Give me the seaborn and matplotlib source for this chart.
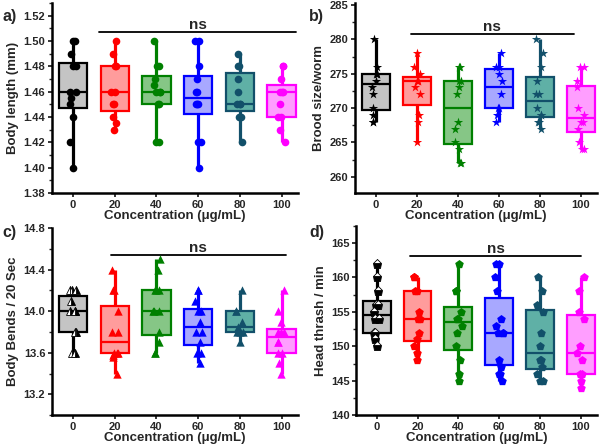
import numpy as np
import pandas as pd
import matplotlib
matplotlib.use("Agg")
import matplotlib.pyplot as plt
import seaborn as sns
from matplotlib.ticker import MultipleLocator, FormatStrFormatter

# concentrations (ug/mL)
conc = ["0", "20", "40", "60", "80", "100"]

edge_colors = ["#000000", "#ff0000", "#008000", "#0000ff", "#12506a", "#ff00ff"]
fill_colors = ["#c4c4c4", "#ff9c9c", "#86c686", "#a8a8ff", "#5fb0a6", "#ff9eff"]

# a) body length (mm)
body_length = [
    [1.50, 1.50, 1.49, 1.48, 1.48, 1.46, 1.46, 1.455, 1.45, 1.44, 1.42, 1.40],
    [1.50, 1.49, 1.48, 1.48, 1.46, 1.46, 1.45, 1.45, 1.44, 1.435, 1.43],
    [1.50, 1.48, 1.48, 1.47, 1.465, 1.46, 1.46, 1.46, 1.45, 1.45, 1.42, 1.42],
    [1.50, 1.50, 1.48, 1.47, 1.46, 1.46, 1.45, 1.45, 1.45, 1.42, 1.42, 1.40],
    [1.49, 1.48, 1.48, 1.47, 1.46, 1.45, 1.45, 1.45, 1.44, 1.44, 1.42],
    [1.48, 1.48, 1.47, 1.46, 1.46, 1.46, 1.45, 1.44, 1.44, 1.43, 1.42],
]

# b) brood size / worm
brood_size = [
    [280, 276, 275, 275, 275, 274, 273, 272, 270, 269, 268, 268],
    [278, 276, 275, 274, 274, 274, 273, 272, 269, 268, 265],
    [276, 276, 274, 274, 273, 272, 268, 267, 265, 264, 262, 262],
    [278, 276, 276, 275, 274, 272, 270, 270, 269, 268],
    [280, 278, 276, 274, 272, 272, 270, 269, 269, 268, 268, 267],
    [276, 276, 274, 273, 270, 269, 268, 268, 267, 265, 264, 264],
]

# c) body bends / 20 sec
body_bends = [
    [14.2, 14.2, 14.2, 14.1, 14.0, 14.0, 14.0, 13.8, 13.8, 13.6, 13.6],
    [14.4, 14.2, 14.2, 14.0, 13.8, 13.8, 13.6, 13.6, 13.6, 13.58, 13.56, 13.4],
    [14.5, 14.4, 14.2, 14.2, 14.2, 14.0, 14.0, 14.0, 13.8, 13.7, 13.6, 13.6],
    [14.2, 14.2, 14.1, 14.0, 14.0, 13.9, 13.8, 13.8, 13.7, 13.6, 13.6, 13.5],
    [14.2, 14.0, 14.0, 13.9, 13.85, 13.8, 13.8, 13.8, 13.7],
    [14.2, 14.0, 13.9, 13.8, 13.8, 13.8, 13.7, 13.7, 13.6, 13.6, 13.5, 13.4],
]

# d) head thrash / min
head_thrash = [
    [162, 160, 158, 156, 156, 155, 154, 154, 152, 152, 151, 150],
    [160, 160, 158, 158, 155, 154, 154, 152, 151, 150, 149, 148],
    [162, 158, 158, 155, 154, 154, 153, 152, 150, 148, 146, 145],
    [162, 162, 160, 158, 154, 153, 152, 152, 152, 148, 147, 146, 146, 145],
    [160, 158, 156, 155, 152, 150, 148, 148, 147, 146, 145, 145],
    [160, 158, 155, 154, 150, 149, 148, 146, 146, 145, 144],
]

panels = [
    dict(vals=body_length, ylabel="Body length (mm)", ylim=(1.38, 1.53), major=0.02, minor=0.01,
         fmt="%.2f", marker="o", fill="full", ms=5.5, ns_y=1.507, ns_x=(0.63, 5.35), letter="a)",
         rect=[0.087, 0.567, 0.410, 0.426], letter_pos=(0.004, 0.962)),
    dict(vals=brood_size, ylabel="Brood size/worm", ylim=(257.6, 285.3), major=5, minor=2.5,
         fmt="%d", marker="*", fill="full", ms=7, ns_y=280.8, ns_x=(0.85, 4.83), letter="b)",
         rect=[0.592, 0.567, 0.403, 0.426], letter_pos=(0.515, 0.962)),
    dict(vals=body_bends, ylabel="Body Bends / 20 Sec", ylim=(13.0, 14.8), major=0.4, minor=0.2,
         fmt="%.1f", marker="^", fill="right", ms=6, ns_y=14.54, ns_x=(0.9, 5.1), letter="c)",
         rect=[0.087, 0.069, 0.410, 0.420], letter_pos=(0.004, 0.478)),
    dict(vals=head_thrash, ylabel="Head thrash / min", ylim=(140, 167.5), major=5, minor=2.5,
         fmt="%d", marker="p", fill="bottom", ms=6.5, ns_y=163.1, ns_x=(0.82, 5.0), letter="d)",
         rect=[0.594, 0.069, 0.401, 0.425], letter_pos=(0.515, 0.478)),
]

sns.set_style("ticks")
plt.rcParams["font.family"] = ["Liberation Sans", "DejaVu Sans"]
plt.rcParams["font.weight"] = "bold"
plt.rcParams["axes.labelweight"] = "bold"
np.random.seed(3)

fig = plt.figure(figsize=(6, 4.46), dpi=100)

for p in panels:
    ax = fig.add_axes(p["rect"])
    df = pd.DataFrame({
        "Concentration": [c for c, v in zip(conc, p["vals"]) for _ in v],
        "Value": [x for v in p["vals"] for x in v],
    })
    for c, ec, fc in zip(conc, edge_colors, fill_colors):
        sub = df[df["Concentration"] == c]
        sns.boxplot(data=sub, x="Concentration", y="Value", order=conc, ax=ax,
                    color=fc, linecolor=ec, saturation=1, width=0.68, whis=(0, 100),
                    showcaps=False, showfliers=False, linewidth=1.6,
                    whiskerprops={"linewidth": 2.3})
    for c, ec in zip(conc, edge_colors):
        sub = df[df["Concentration"] == c]
        n_before = len(ax.collections)
        sns.stripplot(data=sub, x="Concentration", y="Value", order=conc, ax=ax,
                      color=ec, marker=p["marker"], size=p["ms"], jitter=0.09,
                      linewidth=0, zorder=4)
        if p["fill"] != "full":
            coll = ax.collections[n_before]
            offs = coll.get_offsets()
            coll.remove()
            ax.plot(offs[:, 0], offs[:, 1], ls="none", marker=p["marker"],
                    fillstyle=p["fill"], markerfacecolor=ec, markerfacecoloralt="white",
                    markeredgecolor=ec, markeredgewidth=0.6, ms=p["ms"], zorder=4)

    ax.set_xlim(-0.5, 5.4)
    ax.set_ylim(*p["ylim"])
    ax.yaxis.set_major_locator(MultipleLocator(p["major"]))
    ax.yaxis.set_minor_locator(MultipleLocator(p["minor"]))
    ax.yaxis.set_major_formatter(FormatStrFormatter(p["fmt"]))
    ax.set_xlabel("Concentration (μg/mL)", fontsize=9.5, fontweight="bold", labelpad=0)
    ax.set_ylabel(p["ylabel"], fontsize=9.5, fontweight="bold", labelpad=3)
    ax.tick_params(axis="both", labelsize=8, width=1.3, length=3, pad=2)
    ax.tick_params(axis="y", which="minor", width=1.0, length=2)
    for lab in ax.get_xticklabels() + ax.get_yticklabels():
        lab.set_fontweight("bold")
    sns.despine(ax=ax)
    for s in ("left", "bottom"):
        ax.spines[s].set_linewidth(1.8)
        ax.spines[s].set_color("black")

    # significance bar
    ax.plot(p["ns_x"], [p["ns_y"], p["ns_y"]], color="black", lw=1.3, clip_on=False)
    ax.text(sum(p["ns_x"]) / 2, p["ns_y"], "ns", ha="center", va="bottom",
            fontsize=11, fontweight="bold")

    fig.text(p["letter_pos"][0], p["letter_pos"][1], p["letter"], fontsize=11.5,
             fontweight="bold", ha="left", va="center")

fig.savefig("out.png", dpi=100)
